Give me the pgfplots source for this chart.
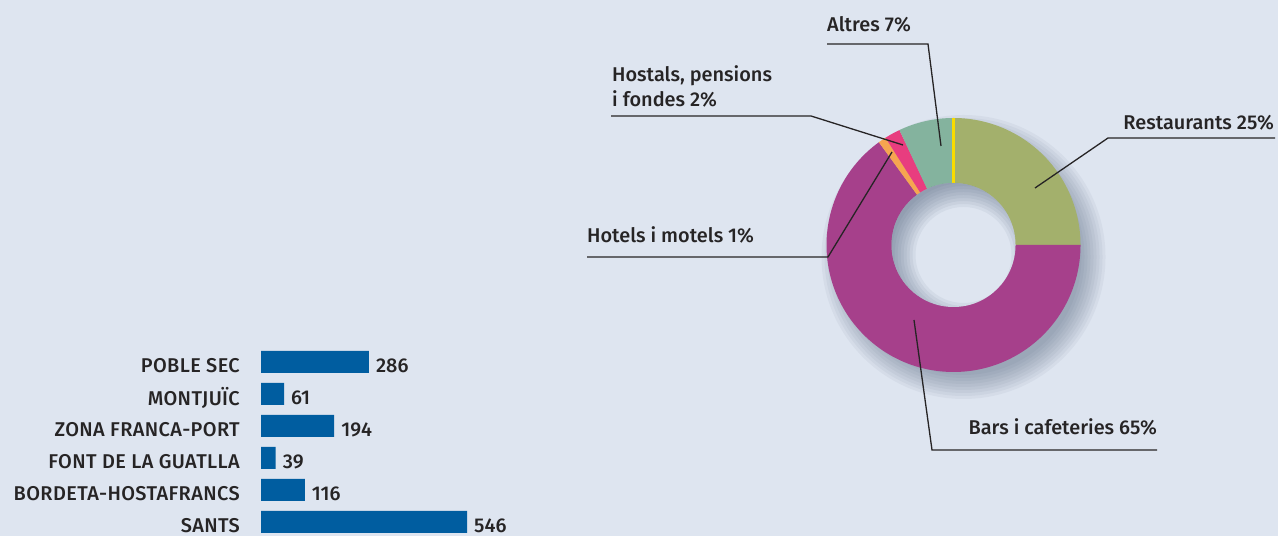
\documentclass[border=0pt]{standalone}
\usepackage{pgfplots}
\pgfplotsset{compat=1.18}
\usepackage{pgfplotstable}
\usepackage{fontspec}
\setmainfont{Fira Sans}[UprightFont=* Medium, BoldFont=* SemiBold]
\definecolor{bg}{RGB}{222,229,240}
\definecolor{barblue}{RGB}{0,93,160}
\definecolor{cRest}{RGB}{163,176,108}
\definecolor{cBars}{RGB}{166,64,139}
\definecolor{cHot}{RGB}{246,165,80}
\definecolor{cHost}{RGB}{232,61,127}
\definecolor{cAlt}{RGB}{132,179,158}
\definecolor{cYel}{RGB}{249,220,0}
\definecolor{txt}{RGB}{38,36,37}
\definecolor{shad}{RGB}{70,88,115}
\pgfplotstableread{
y value
0 546
1 116
2 39
3 194
4 61
5 286
}\bardata
\begin{document}
\begin{tikzpicture}[x=1bp,y=1bp,font=\fontsize{20}{24}\selectfont,text=txt]
\fill[bg] (0,0) rectangle (1278,536);
% ---------------- bar chart ----------------
\begin{axis}[
  at={(261bp,-2bp)}, anchor=south west,
  scale only axis, width=206bp, height=192bp,
  xmin=0, xmax=546, ymin=-0.5, ymax=5.5,
  xbar, bar width=22bp,
  axis line style={draw=none},
  xtick=\empty,
  ytick={0,...,5},
  yticklabels={SANTS,BORDETA-HOSTAFRANCS,FONT DE LA GUATLLA,ZONA FRANCA-PORT,MONTJUÏC,POBLE SEC},
  major tick length=0pt,
  yticklabel style={anchor=east, inner sep=0pt, xshift=-21bp, yshift=-3.5bp, font=\fontsize{20}{24}\selectfont\addfontfeatures{LetterSpace=2}, text=txt},
  /pgf/number format/assume math mode=true,
  nodes near coords,
  every node near coord/.append style={anchor=west, inner sep=0pt, xshift=7bp, yshift=-4bp, font=\fontsize{20}{24}\selectfont, text=txt},
  clip=false,
]
\addplot[fill=barblue, draw=none] table[x=value, y=y] {\bardata};
\end{axis}
% ---------------- donut chart ----------------
\begin{axis}[
  at={(953.5bp,291bp)}, anchor=center,
  x=1bp, y=1bp,
  xmin=-127, xmax=127, ymin=-127, ymax=127,
  hide axis, clip=false,
]
% drop shadow
\pgfplotsinvokeforeach{142,139,...,118}{
  \fill[shad, opacity=0.06] (axis cs:10,-12) circle[radius=#1 bp];
}
% slices: Restaurants 25, Bars 65, Hotels 1, Hostals 2, Altres 7 (clockwise from top)
\fill[cRest] (axis cs:0,0) -- ++(90:127bp) arc[start angle=90, end angle={90-3.6*25}, radius=127bp] -- cycle;
\fill[cBars] (axis cs:0,0) -- ++({90-3.6*25}:127bp) arc[start angle={90-3.6*25}, end angle={90-3.6*90}, radius=127bp] -- cycle;
\fill[cHot] (axis cs:0,0) -- ++({90-3.6*90}:127bp) arc[start angle={90-3.6*90}, end angle={90-3.6*91}, radius=127bp] -- cycle;
\fill[cHost] (axis cs:0,0) -- ++({90-3.6*91}:127bp) arc[start angle={90-3.6*91}, end angle={90-3.6*93}, radius=127bp] -- cycle;
\fill[cAlt] (axis cs:0,0) -- ++({90-3.6*93}:127bp) arc[start angle={90-3.6*93}, end angle={90-3.6*100}, radius=127bp] -- cycle;
\draw[cYel, line width=3.3bp] (axis cs:0,62) -- (axis cs:0,127);
% hole
\fill[bg] (axis cs:0,0) circle[radius=62bp];
\begin{scope}
\clip (axis cs:0,0) circle[radius=62bp];
\pgfplotsinvokeforeach{72,69,...,48}{
  \fill[shad, opacity=0.07, even odd rule] (axis cs:0,0) circle[radius=90bp] (axis cs:10,-10) circle[radius=#1 bp];
}
\end{scope}
\end{axis}
% ---------------- leaders & labels ----------------
\begin{scope}[line width=1.3bp, draw=txt]
\draw (941,390) -- (928,492) -- (827,492);
\draw (903,391) -- (811,420) -- (611,420);
\draw (892,384) -- (828,279) -- (587,279);
\draw (1035,348) -- (1108,398) -- (1275,398);
\draw (914,216) -- (932,86) -- (1157,86);
\end{scope}
\node[anchor=base west, inner sep=0pt] at (827,504) {Altres 7\%};
\node[anchor=base west, inner sep=0pt] at (612,454) {Hostals, pensions};
\node[anchor=base west, inner sep=0pt] at (612,429) {i fondes 2\%};
\node[anchor=base west, inner sep=0pt] at (587,293) {Hotels i motels 1\%};
\node[anchor=base east, inner sep=0pt] at (1274,406) {Restaurants 25\%};
\node[anchor=base east, inner sep=0pt] at (1157,101) {Bars i cafeteries 65\%};
\pgfresetboundingbox
\useasboundingbox (0,0) rectangle (1278,536);
\end{tikzpicture}
\end{document}
